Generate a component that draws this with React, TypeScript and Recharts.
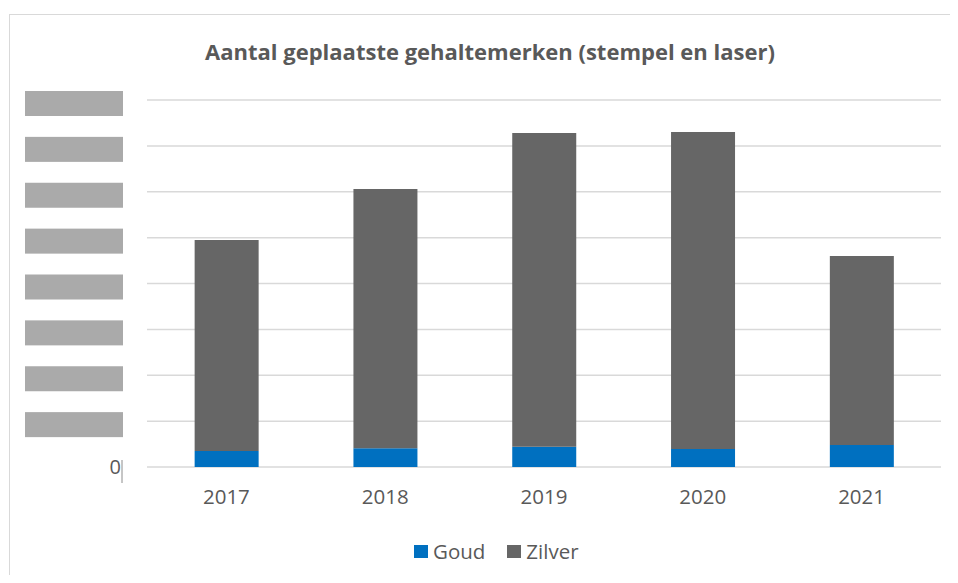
import React from "react";
import { BarChart, Bar, XAxis, YAxis, CartesianGrid, Legend } from "recharts";

const years = ["2017", "2018", "2019", "2020", "2021"];
const goud = [0.35, 0.41, 0.44, 0.39, 0.48];
const zilver = [4.6, 5.65, 6.84, 6.91, 4.12];
const yTicks = [0, 1, 2, 3, 4, 5, 6, 7, 8];

const title = "Aantal geplaatste gehaltemerken (stempel en laser)";
const GOLD = "#0070C0";
const SILVER = "#666666";
const TEXT = "#595959";
const GRID = "#d9d9d9";
const FONT = "'Open Sans', sans-serif";

const data = years.map((y, i) => ({ year: y, Goud: goud[i], Zilver: zilver[i] }));

const YTick = (props: any) => {
  const { y, payload } = props;
  if (payload.value === 0) {
    return (
      <g>
        <text x={113} y={y} dy="0.35em" textAnchor="end" fontFamily={FONT} fontSize={20} fill={TEXT}>
          0
        </text>
        <line x1={114} x2={114} y1={y - 7} y2={y + 16} stroke="#8c8c8c" strokeWidth={1} />
      </g>
    );
  }
  return <rect x={17} y={y - 9} width={98} height={25} fill="#aaaaaa" />;
};

const XTick = (props: any) => {
  const { x, y, payload } = props;
  return (
    <text x={x} y={y + 37} textAnchor="middle" fontFamily={FONT} fontSize={20.5} fill={TEXT}>
      {payload.value}
    </text>
  );
};

const LegendContent = (props: any) => {
  const { payload } = props;
  return (
    <div style={{ position: "absolute", left: 406, top: 0, display: "flex", alignItems: "center", height: 24 }}>
      {(payload || []).map((p: any, i: number) => (
        <div key={p.value} style={{ display: "flex", alignItems: "center", marginLeft: i === 0 ? 0 : 22 }}>
          <div style={{ width: 14, height: 13, background: p.color, marginRight: 5 }} />
          <span style={{ fontFamily: FONT, fontSize: 20.5, color: TEXT, lineHeight: "24px" }}>{p.value}</span>
        </div>
      ))}
    </div>
  );
};

export default function App() {
  return (
    <div style={{ position: "relative", width: 950, height: 567 }}>
      <BarChart
        width={950}
        height={567}
        data={data}
        margin={{ top: 92, right: 17, left: 0, bottom: 0 }}
        barCategoryGap="30%"
      >
        <CartesianGrid horizontal vertical={false} stroke={GRID} strokeWidth={1.5} />
        <XAxis
          dataKey="year"
          height={108}
          axisLine={false}
          tickLine={false}
          tickSize={0}
          tickMargin={0}
          tick={<XTick />}
          interval={0}
        />
        <YAxis
          width={139}
          domain={[0, 8]}
          ticks={yTicks}
          axisLine={false}
          tickLine={false}
          tick={<YTick />}
          interval={0}
        />
        <Legend
          verticalAlign="middle"
          align="center"
          layout="horizontal"
          wrapperStyle={{ top: 531, left: 0, width: 950, height: 24 }}
          content={<LegendContent />}
        />
        <Bar dataKey="Goud" stackId="a" fill={GOLD} isAnimationActive={false} />
        <Bar dataKey="Zilver" stackId="a" fill={SILVER} isAnimationActive={false} />
      </BarChart>
      <div
        style={{
          position: "absolute",
          left: 1,
          top: 6,
          width: 949,
          height: 561,
          borderLeft: `1px solid ${GRID}`,
          borderTop: `1px solid ${GRID}`,
          boxSizing: "border-box",
          pointerEvents: "none",
        }}
      />
      <svg style={{ position: "absolute", left: 0, top: 0, pointerEvents: "none" }} width={950} height={80}>
        <text x={482} y={52} textAnchor="middle" fontFamily={FONT} fontWeight="bold" fontSize={22} fill={TEXT}>
          {title}
        </text>
      </svg>
    </div>
  );
}
